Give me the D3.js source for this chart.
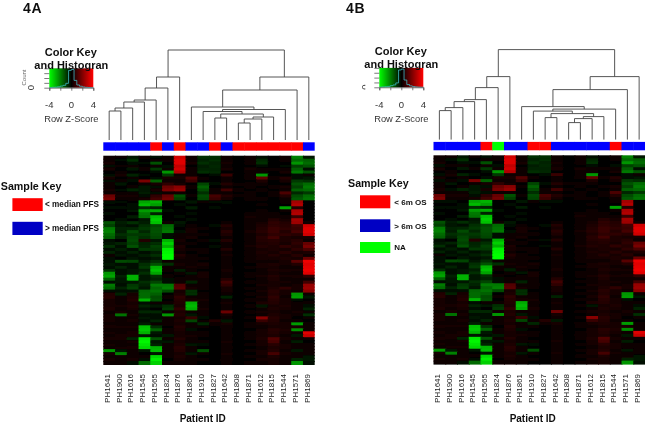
<!DOCTYPE html>
<html><head><meta charset="utf-8">
<script src="https://cdn.jsdelivr.net/npm/d3@7/dist/d3.min.js"></script>
<style>html,body{margin:0;padding:0;background:#fff}svg{display:block;font-family:"Liberation Sans",Arial,sans-serif}</style>
</head><body>
<svg id="c" width="650" height="423"></svg>
<script>
const patients=["PH1641","PH1900","PH1616","PH1545","PH1565","PH1824","PH1876","PH1861","PH1910","PH1827","PH1642","PH1808","PH1871","PH1612","PH1815","PH1544","PH1571","PH1869"];
const sampleClassA=["b","b","b","b","r","b","r","b","b","r","b","r","r","r","r","r","r","b"];
const sampleClassB=["b","b","b","b","r","g","b","b","r","r","b","b","b","b","b","r","b","b"];
const keyLabelsA=[["r","< median PFS"],["b","> median PFS"]];
const keyLabelsB=[["r","< 6m OS"],["b","> 6m OS"],["g","NA"]];
// dendrogram merges: [childA, childB, height]; child <18 = leaf, >=18 = earlier merge
const mergesA=[[0,1,29],[18,2,32],[19,3,38],[20,4,40],[21,5,52],[22,6,63],
[11,12,17],[24,13,21],[25,14,23],[9,10,22],[27,26,26],[8,28,28.5],[29,15,30.5],[7,30,33],[31,16,50],[32,17,63],[23,33,90]];
const histZ=[-4,-3.5,-3,-2.5,-2,-1.5,-1,-.5,0,.5,1,1.5,2,2.5,3,3.5,4];
const histCount=[.01,.02,.03,.05,.09,.13,.24,.95,1,.4,.15,.08,.04,.02,.01,.005,.005];
const keyTicks=[-4,-2,0,2,4];
const keyLabels=[-4,0,4];
const heat=[
[.4,.3,-.5,.3,-.3,.4,3.4,.3,-1,-1,.3,.2,.3,-.3,.2,.4,-2.3,-.5],
[.3,-.3,-1,.2,.3,.3,3.6,.4,-.8,-1,.4,.1,.3,-.9,.2,.3,-2,-1.8],
[.5,.2,-.4,-.3,-1.6,.2,3.6,.5,-1,-.8,.5,-.2,.4,-1,-.2,.2,-2.6,-2],
[-.3,.3,.4,.2,.3,-.4,3.2,.2,-.7,-.9,.3,.1,.2,-.3,.1,-.3,-1.3,-1.6],
[.5,-.2,-.6,.4,-1.2,.3,3.4,.3,-.8,-.8,.6,.2,.5,.3,.3,.4,-1.8,-.4],
[.2,.3,.2,.2,-.3,-2.6,3,.4,-1,-.9,.2,-.1,.3,.3,.2,.5,-2.2,-1.6],
[-.4,.5,-.8,-.3,.2,-1.2,.4,.3,-.2,-.3,1.2,.1,.3,-2.6,.2,-.2,-.4,.3],
[.5,.2,.3,.2,-.3,.5,.6,1.6,.3,.2,.3,.2,.4,1.8,.3,.8,-.4,-.5],
[-.3,.3,-.4,2.2,-1.8,.3,.3,1.2,.2,-.2,.3,.1,.2,.7,.2,.5,-1.2,-1],
[.4,-.5,.2,.3,.5,1,.5,.2,-1.4,-.4,.8,.3,.3,.3,.2,.2,-1.6,-2],
[.3,.2,.3,-.6,-.3,2,2.4,.3,-1.8,.2,.3,.2,.3,.2,.3,.6,-1.3,-2.2],
[.5,-.3,-.8,-.5,.5,2.2,2.6,.2,-1.5,.3,1.3,.3,.2,.3,.2,.4,-1.8,-2],
[.3,.3,.3,-.7,-.3,.4,.4,.2,-1,.3,.3,.2,.4,.2,.3,1.5,-.9,-1.2],
[2,.5,.6,-.3,1,1.9,-1.6,.3,-1.5,1.4,.8,.3,.3,.2,.3,.8,-1.5,-2],
[2.2,.3,.4,.5,1.3,2.1,-1.3,.2,-1.4,1.2,.5,.2,.4,.3,.2,.4,-1.7,-2.1],
[-.3,-.3,.2,-2.8,-3,.2,.2,-.6,.3,-.3,-.3,.1,.2,.2,.1,.3,2.8,.1],
[-.2,.2,-.4,-3.1,-2.7,.2,-.4,.2,-.2,.2,-.2,.1,.1,.3,.1,.2,3,.1],
[-.3,-.3,-.3,-1,-.8,.1,.2,-.7,.1,-.3,.1,-.1,.1,.2,.1,-2.8,.8,.2],
[.2,.2,-.5,-2.7,-2.9,-.3,-.2,.2,-.2,.1,.2,.1,.2,.3,.1,.3,2.9,.1],
[-.3,-.2,.2,-2.2,-.8,.1,.1,-.3,.1,-.2,.1,.2,.3,.3,.3,.2,3,.2],
[-.2,.1,-.7,-2.1,-3.2,.2,-.3,.1,-.2,.1,.1,.1,.5,.4,.3,.3,1.2,.1],
[.2,-.4,-.2,-.5,-3.4,-.2,.2,-.3,.1,-.2,.2,.1,.3,.3,.8,.5,2.8,.2],
[-1.6,-.7,-1,-.7,-3.2,.3,-.6,-.2,.2,.1,.3,.1,.3,.5,1,.8,2.7,.3],
[-1.3,-.5,-.4,-1,-1.4,-2,-.3,.3,.1,-.3,.8,.1,.4,.7,1,.9,1.3,3.4],
[-2.2,-.8,-.9,-1.2,-1.6,-2.1,.2,.5,.3,.1,.6,.1,.4,.8,1.2,1,1.2,3.6],
[-2.3,-.7,-1.5,-.9,-1.6,-2.2,-.4,.6,.2,-.2,.9,-.1,.5,.9,1.2,.8,1.4,3.6],
[-2,-1,-1.2,-1.2,-1.5,-.4,.3,.4,.4,.2,.7,0,.4,.7,1,1,.9,3.4],
[-1.8,-.8,-1.4,-1,-1.4,-.3,.4,.5,.2,-.2,.4,.1,.3,.9,1.3,.7,.6,.5],
[-.3,.2,-1.5,.8,-.6,-3,.5,.2,.3,-.3,.8,0,.3,.8,.9,.7,.9,.3],
[-.5,-.8,-1.3,-.8,-1,-3.4,.3,.4,.1,.2,.4,.1,.4,.7,.8,.6,1,1.9],
[-1,-.4,-1.6,-.9,-1.3,-3,.7,.2,.2,-.3,.4,-.1,.5,.8,.7,1,.8,2.2],
[-.3,-.7,-.4,-1.2,-1.2,-3.8,.6,.3,.4,.1,.8,0,.3,.6,.7,.6,1,1.5],
[-.8,-.3,-.8,-.4,-.7,-3.9,.4,.2,.3,-.2,.3,.1,.4,.7,.6,.9,.6,.7],
[.3,-.5,-.4,-.7,-1,-4,.8,.4,.2,.1,.5,0,.3,.5,.8,.6,.9,.4],
[-.4,-.2,-.6,-.3,-.5,-4,.5,.3,.4,.2,.3,.1,.4,.6,.5,.7,.5,2],
[-.3,-1.5,-1.4,-.6,-1,.3,.3,.4,.2,.1,.4,0,.3,.4,.4,.6,1.7,3.8],
[-.6,-.4,-.4,-1,-1.6,-1,.6,.3,.6,.1,.3,0,.2,.5,.7,.5,.8,3.6],
[-.3,-.8,-.3,-1.2,-3,.4,.3,.5,.4,.1,.4,.1,.3,.5,.6,.3,.3,3.7],
[-1,-.3,-.5,-.7,-3.2,.3,-.7,.3,.2,0,.6,0,.2,.4,.7,.6,.5,3.8],
[-2.6,-.3,-.6,-1,-2.8,.2,.3,-.5,.5,.1,.4,.1,.3,.4,.5,.4,.4,3.6],
[-2.8,-.8,-3,-.6,-1,.4,.2,.3,.6,0,.3,.1,.3,.5,.8,.5,.6,1],
[-1.8,-.6,-3,-.5,-.8,-.4,.4,.4,.3,.1,.8,.1,.2,.4,.7,.3,.3,.3],
[-.3,-.5,-.5,-1,-1.4,-.3,.3,-.8,.3,.1,1.3,0,.3,.3,.6,.5,.4,1.3],
[-2.2,-.4,-1.2,-.8,-2.2,-2.2,1.6,.4,.4,.2,1,.1,.2,.5,.6,.4,.5,2.6],
[-2,-.8,-1.3,-.6,-1.9,-2.3,1.7,.5,.3,.1,.5,0,.3,.4,.7,1,.6,2.7],
[-.3,-.3,-.4,-1.9,-2.1,-1.5,.6,-1,.2,0,.5,.1,.2,.5,.9,.6,.4,2.4],
[.8,-.8,.6,-2,-1.8,.2,.7,-1,.4,.1,.3,0,.3,.4,.8,.5,-2.6,.3],
[.9,.4,.7,-2,-1.5,.3,1,.4,.3,.2,-.8,.1,.2,.5,1,.4,-2.7,-.5],
[.6,.3,.8,-3,-1.6,.2,.9,.6,.5,.1,.3,.1,.4,.4,.9,.6,-.3,.2],
[.5,.4,.5,-.3,.3,.4,.8,-2.9,.4,.2,.5,.1,.2,.7,.8,.5,.4,.3],
[.6,.5,.7,-.8,-.5,-1,.7,-3.1,.3,0,.3,.1,.3,-.5,.6,.7,.3,-.4],
[.7,.3,.6,-.4,.2,-1.2,1,-2.9,.6,.1,.4,0,.2,.4,.7,.5,.4,-.8],
[.4,.5,.4,-.9,-.9,.3,.7,.4,.4,.1,2,.2,.3,.5,.6,.4,.5,.3],
[.5,-2.1,.5,-.3,-.4,-2.6,.8,-.5,.3,.2,.5,.1,.2,.4,.7,.5,.3,-1],
[.6,.3,.4,-.6,-.3,.4,.6,1.2,-.4,.1,.3,0,.3,2.4,.9,.6,.2,.3],
[.5,.4,.6,-.4,-.8,.3,.7,-1.4,.3,.8,-.6,.1,.2,1.2,.8,.4,.3,.2],
[.4,.3,.3,-.7,.3,.4,.5,.3,-.9,.3,.5,0,.4,.5,.7,.6,-2.7,.3],
[.6,.5,.5,-3.2,-1,.2,.8,.4,.3,.2,.4,.1,.3,.4,.6,.5,.6,.4],
[.3,.4,.4,-3.3,-1.8,.3,.7,-.4,.2,.1,.3,.1,.2,.5,.9,.7,-2.5,.3],
[.5,.3,.6,-3,-.6,.4,.6,.3,.4,.2,.3,0,.3,.6,.8,.5,.3,3.6],
[.4,.6,.5,-.5,-.4,-.6,.5,.5,.3,.1,.4,.1,.4,.5,.7,.4,-.6,3.3],
[.6,.5,-.8,-3.7,-1.6,.3,.8,.4,.2,.2,.3,0,.3,.7,1.6,.6,.3,.4],
[.3,.4,.5,-3.9,-.5,-.5,.6,.3,.3,.1,.5,.1,.2,.6,1.4,.4,-.7,.2],
[.5,.3,.4,-3.7,-.8,.3,.7,-.5,-.3,.2,.3,0,.3,.5,.9,.5,.4,.3],
[.4,.5,.5,-3.5,-3,.4,.9,.3,.2,.1,.4,.1,.2,.4,.7,.6,.3,.3],
[-2.6,-.5,.4,-.6,-3.1,.3,.8,.4,-1.6,.2,.3,0,.3,.5,.8,.4,-.6,.4],
[.5,-2.3,.3,.2,-.5,.4,.6,-.5,.3,.1,.5,.1,.2,.6,1.4,.5,.3,.3],
[.4,.3,.4,.3,-3.5,.3,.7,.3,.2,.1,.3,0,.3,.4,.7,.3,.4,-.5],
[.5,.4,.5,-.3,-3.8,.2,.5,.4,.3,.2,.4,.1,.2,.5,.5,.4,-.8,-.6],
[.3,.3,-.4,-2,-3.4,.4,.4,.3,.2,.1,.3,.1,.3,.4,.6,.3,-2.6,-.4]
];

const colors={r:"#ff0000",b:"#0000ff",g:"#00ff00"};
const keyColors={r:"#ff0000",b:"#0000c4",g:"#00ff00"};
const z2c=d3.scaleLinear().domain([-4,0,4]).range(["#00ff00","#000000","#ff0000"]).clamp(true);
const mag=d3.scalePow().exponent(1.25).domain([0,4]).range([0,255]).clamp(true);
const cellColor=v=>{const m=Math.round(mag(Math.abs(v)));return v<0?`rgb(0,${m},0)`:`rgb(${m},0,0)`;};
const svg=d3.select("#c");
const defs=svg.append("defs");
defs.append("filter").attr("id","softH").attr("x","0").attr("y","0").attr("width","1").attr("height","1").append("feGaussianBlur").attr("stdDeviation",.6);
defs.append("filter").attr("id","soft").attr("filterUnits","userSpaceOnUse").attr("x",0).attr("y",0).attr("width",650).attr("height",423).append("feGaussianBlur").attr("stdDeviation",.3);

function panel(o){
  const g=svg.append("g").attr("filter","url(#soft)");
  const x=d3.scaleBand().domain(patients).range([o.x0,o.x1]);
  const y=d3.scaleBand().domain(d3.range(heat.length)).range([155.7+o.dy,364+o.dy]);
  // heatmap
  const hg=g.append("g").attr("filter","url(#softH)");
  hg.append("g").selectAll("g").data(heat).join("g").attr("transform",(r,i)=>`translate(0,${y(i)})`)
   .selectAll("rect").data(r=>r).join("rect")
   .attr("x",(v,j)=>x(patients[j])).attr("width",(v,j)=>x.bandwidth()+(j<17?1:0)).attr("height",y.bandwidth()+1).attr("fill",v=>cellColor(v));
  // sample colour strip
  g.append("g").selectAll("rect").data(o.classes).join("rect")
   .attr("x",(c,j)=>x(patients[j])).attr("width",(c,j)=>x.bandwidth()+(j<17?.5:0)).attr("y",142.3+o.dy).attr("height",8.4).attr("fill",c=>colors[c]);
  // dendrogram
  const h=d3.scaleLinear().domain([0,90]).range([140+o.dy,50+o.dy]);
  const nodes=patients.map(p=>({x:x(p)+x.bandwidth()/2,h:0}));
  const dend=g.append("g").attr("fill","none").attr("stroke","#444").attr("stroke-width",.9);
  mergesA.forEach(([a,b,ht])=>{
    const A=nodes[a],B=nodes[b];
    dend.append("path").attr("d",`M${A.x},${h(A.h)}V${h(ht)}H${B.x}V${h(B.h)}`);
    nodes.push({x:(A.x+B.x)/2,h:ht});
  });
  // labels
  g.append("g").selectAll("text").data(patients).join("text")
   .attr("transform",p=>`translate(${x(p)+x.bandwidth()/2+.8},374) rotate(-90)`)
   .attr("text-anchor","end").attr("font-size",8).attr("fill","#222").text(p=>p);
  g.append("text").attr("x",o.idX).attr("y",422).attr("text-anchor","middle").attr("font-size",10).attr("font-weight","bold").attr("fill","#111").text("Patient ID");
  g.append("text").attr("x",o.labelX).attr("y",13).attr("font-size",14).attr("letter-spacing",.8).attr("font-weight","bold").attr("fill","#111").text(o.label);
  // colour key
  const kx=d3.scaleLinear().domain([-4,4]).range([o.kx,o.kx+44]);
  const kh=d3.scaleLinear().domain([0,1]).range([87.7+o.dy,69.5+o.dy]);
  const gid="kg"+o.label;
  defs.append("linearGradient").attr("id",gid).selectAll("stop")
   .data([-4,0,4]).join("stop").attr("offset",d=>(d+4)/8).attr("stop-color",d=>z2c(d));
  g.append("rect").attr("x",o.kx).attr("y",68.3+o.dy).attr("width",44).attr("height",19.4).attr("fill",`url(#${gid})`);
  const line=d3.line().x(d=>kx(d[0])).y(d=>kh(d[1])).curve(d3.curveStepAfter);
  g.append("path").attr("d",line(histZ.map((z,i)=>[z,histCount[i]]))).attr("fill","none").attr("stroke","#3fb8c0").attr("stroke-width",.8);
  const ka=d3.axisBottom(kx).tickValues(keyTicks).tickSize(3).tickFormat("");
  const ag=g.append("g").attr("transform",`translate(0,${87.7+o.dy})`).call(ka);
  ag.selectAll("path,line").attr("stroke","#444").attr("stroke-width",.7);
  g.append("g").selectAll("text").data(keyLabels).join("text").attr("x",d=>kx(d)).attr("y",108+o.dy)
   .attr("text-anchor","middle").attr("font-size",9.5).attr("fill","#333").text(d=>d<0?"-"+(-d):d);
  g.append("text").attr("x",o.kx+22).attr("y",122+o.dy).attr("text-anchor","middle").attr("font-size",9.3).attr("fill","#333").text("Row Z-Score");
  g.append("text").attr("x",o.kx+21.5).attr("y",55.5+o.dy).attr("text-anchor","middle").attr("font-size",11).attr("font-weight","bold").attr("fill","#111").text("Color Key");
  g.append("text").attr("x",o.kx+22).attr("y",68.5+o.dy).attr("text-anchor","middle").attr("font-size",11).attr("font-weight","bold").attr("fill","#111").text("and Histogran");
  // count axis
  const ca=d3.axisLeft(d3.scaleLinear().domain([0,4]).range([87.7+o.dy,68.3+o.dy])).ticks(4).tickSize(5).tickFormat("");
  const cg=g.append("g").attr("transform",`translate(${o.kx},0)`).call(ca);
  cg.selectAll("line").attr("stroke","#444").attr("stroke-width",.7); cg.select("path").attr("stroke","none");
  if(o.count){
    g.append("text").attr("transform",`translate(${o.kx-23.5},77.5) rotate(-90)`).attr("text-anchor","middle").attr("font-size",6).attr("fill","#666").text("Count");
    g.append("text").attr("transform",`translate(${o.kx-15.5},87.7) rotate(-90)`).attr("text-anchor","middle").attr("font-size",9.5).attr("fill","#333").text("0");
  } else {
    defs.append("clipPath").attr("id","cu").append("rect").attr("x",o.kx-20).attr("y",80).attr("width",6).attr("height",12);
    g.append("g").attr("clip-path","url(#cu)").append("text").attr("transform",`translate(${o.kx-11.5},87.2) rotate(-90)`).attr("text-anchor","middle").attr("font-size",9.5).attr("fill","#333").text("0");
  }
  // sample key
  g.append("text").attr("x",o.sk.tx).attr("y",o.sk.ty).attr("font-size",10.7).attr("font-weight","bold").attr("fill","#111").text("Sample Key");
  const kg=g.append("g").selectAll("g").data(o.keys).join("g").attr("transform",(d,i)=>`translate(0,${o.sk.ys[i]})`);
  kg.append("rect").attr("x",o.sk.rx).attr("width",30.3).attr("height",(d,i)=>o.sk.hs[i]).attr("fill",d=>keyColors[d[0]]);
  kg.append("text").attr("x",o.sk.lx).attr("y",(d,i)=>o.sk.hs[i]/2+2.9).attr("font-size",o.sk.fs).attr("font-weight","bold").attr("fill","#111").text(d=>d[1]);
}
panel({label:"4A",labelX:23,x0:103.3,x1:314.7,dy:0,kx:49.3,idX:202.7,classes:sampleClassA,keys:keyLabelsA,count:true,
  sk:{tx:.8,ty:190,rx:12.4,lx:45,fs:8.2,ys:[198.2,221.8],hs:[12.8,13.2]}});
panel({label:"4B",labelX:346,x0:433.5,x1:645,dy:-.4,kx:379.3,idX:532.7,classes:sampleClassB,keys:keyLabelsB,count:false,
  sk:{tx:348,ty:187,rx:360,lx:394.3,fs:8,ys:[195.3,219.3,242],hs:[13,12.7,11]}});
</script>
</body></html>
